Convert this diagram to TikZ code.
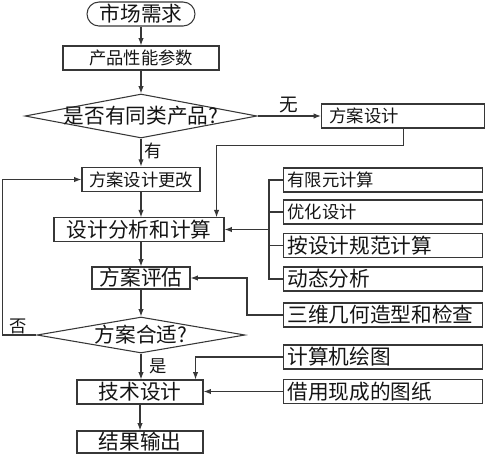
\documentclass[tikz,border=0pt]{standalone}
\usepackage{fontspec}
\usepackage{tikz}
\usetikzlibrary{
  shapes.geometric,
  arrows.meta,
  positioning
}
\newfontfamily\cjk{Noto Sans CJK SC}
\definecolor{linecolor}{RGB}{55, 55, 55}
\definecolor{labelcolor}{RGB}{20, 20, 20}
\tikzset{
bigtext/.style={
  font=\cjk\fontsize{15.5}{17}\selectfont,
  text=labelcolor
},
smalltext/.style={
  font=\cjk\fontsize{13}{15}\selectfont,
  text=labelcolor
},
block/.style={
  draw=linecolor,
  line width=0.8pt,
  inner sep=0pt,
  align=center
},
sideblock/.style={
  draw=linecolor,
  line width=0.8pt,
  anchor=west,
  inner xsep=3pt,
  inner ysep=0pt,
  text width=143.25pt,
  minimum height=18pt,
  align=left
},
decision/.style={
  draw=linecolor,
  diamond,
  line width=0.8pt,
  inner sep=0pt
},
arrow/.style={
  -{Latex[length=5.5pt,width=4pt]},
  line width=0.8pt,
  draw=linecolor
},
link/.style={
  line width=0.8pt,
  draw=linecolor
}
}

\begin{document}
\begin{tikzpicture}[x=0.75pt, y=-0.75pt]
  \useasboundingbox (0,0) rectangle (488,462);

  % main column
  \node[block, bigtext, rounded corners=9pt, minimum width=81pt, minimum height=18pt] (market) at (141,14) {市场需求};
  \node[block, smalltext, minimum width=117pt, minimum height=18pt] (param) at (141,58) {产品性能参数};
  \node[decision, minimum width=174pt, minimum height=33pt] (same) at (141,116) {};
  \node[bigtext] (sametext) at (same) {是否有同类产品?};
  \node[block, smalltext, minimum width=88.5pt, minimum height=18.5pt] (modify) at (141,179.5) {方案设计更改};
  \node[block, bigtext, minimum width=127.5pt, minimum height=17.5pt] (calc) at (139,229.5) {设计分析和计算};
  \node[block, bigtext, minimum width=73.5pt, minimum height=16.5pt] (eval) at (141,278) {方案评估};
  \node[decision, minimum width=156pt, minimum height=27pt] (fit) at (141,335) {};
  \node[bigtext] (fittext) at (fit) {方案合适?};
  \node[block, bigtext, minimum width=94.5pt, minimum height=18pt] (tech) at (140,392) {技术设计};
  \node[block, bigtext, minimum width=94.5pt, minimum height=16.5pt] (result) at (140,442) {结果输出};

  % side column
  \node[sideblock, smalltext, inner xsep=6pt, text width=110.25pt] (scheme) at (321,116) {方案设计};
  \node[sideblock, smalltext] (fem) at (283,180) {有限元计算};
  \node[sideblock, smalltext] (opt) at (283,212) {优化设计};
  \node[sideblock, bigtext] (code) at (283,245.5) {按设计规范计算};
  \node[sideblock, bigtext] (dyn) at (283,279) {动态分析};
  \node[sideblock, bigtext] (geo) at (283,315) {三维几何造型和检查};
  \node[sideblock, bigtext] (cad) at (283,357) {计算机绘图};
  \node[sideblock, bigtext] (reuse) at (283,391.5) {借用现成的图纸};

  % labels
  \node[smalltext] (yes1) at (153,151) {有};
  \node[bigtext, font=\cjk\fontsize{14}{16}\selectfont] (no1) at (289,105) {无};
  \node[smalltext] (no2) at (18,326) {否};
  \node[smalltext] (yes2) at (158,366) {是};

  % main flow
  \draw[arrow] (market) -- (param);
  \draw[arrow] (param) -- (same);
  \draw[arrow] (same) -- (modify);
  \draw[arrow] (modify.south) -- (modify.south |- calc.north);
  \draw[arrow] (calc.south -| eval.north) -- (eval.north);
  \draw[arrow] (eval) -- (fit);
  \draw[arrow] (fit.south) -- (fit.south |- tech.north);
  \draw[arrow] (tech) -- (result);

  \draw[arrow] (same.east) -- (scheme.west);
  \draw[arrow] (scheme.south) -- ++(0,17) -| ([xshift=-6pt]calc.north east);
  \draw[arrow] (fit.west) -- ++(-34,0) |- (modify.west);

  % analysis bracket
  \coordinate (bracket) at (269,229.5);
  \draw[link] (fem.west) -| (bracket);
  \draw[link] (dyn.west) -| (bracket);
  \draw[link] (opt.west) -- (opt.west -| bracket);
  \draw[link] (code.west) -- (code.west -| bracket);
  \draw[arrow] (bracket) -- (bracket -| calc.east);

  \draw[arrow] (geo.west) -- ++(-36,0) |- (eval.east);
  \draw[arrow] (cad.west) -| ([xshift=-6pt]tech.north east);
  \draw[arrow] (reuse.west) -- (reuse.west -| tech.east);
\end{tikzpicture}
\end{document}
